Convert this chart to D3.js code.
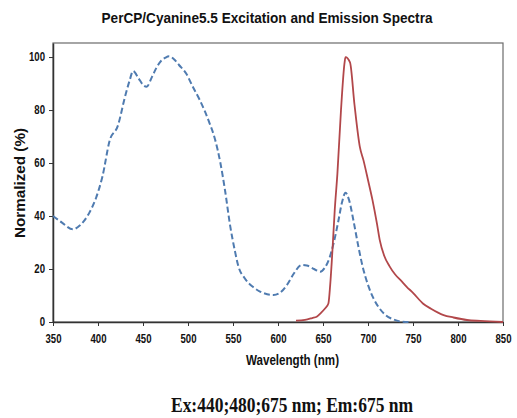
<!DOCTYPE html>
<html>
<head>
<meta charset="utf-8">
<script src="https://cdn.jsdelivr.net/npm/d3@7"></script>
<style>
  body { margin: 0; background: #fff; }
  text { font-family: "Liberation Sans", Arial, sans-serif; }
</style>
</head>
<body>
<div id="chart"></div>
<script>
// excitation spectrum (blue dashed)
var exWave = [350, 360, 372, 380, 390, 398, 405, 413, 422, 430, 435, 439, 445, 450, 454, 460, 465, 470, 475, 479, 485, 490, 498, 505, 513, 524, 530, 536, 541, 547, 552, 556, 563, 572, 580, 588, 595, 602, 610, 618, 626, 632, 640, 647, 652, 657, 662, 667, 671, 675, 679, 684, 689, 694, 700, 706, 712, 720, 728, 736, 745]
var exVal = [40, 37.5, 35, 36.5, 41, 47, 55, 68.5, 74, 85, 91, 94.7, 92, 89.5, 88.8, 92.5, 96, 98.5, 99.8, 100.3, 99, 97, 93.8, 89, 83.8, 75, 69, 60, 50, 36, 27, 21, 16.5, 13.3, 11.5, 10.5, 10.2, 11, 14, 18.5, 21.5, 21.3, 20, 19, 20.5, 24, 30, 38, 45, 48.8, 46, 38, 29, 21, 14, 9, 5.5, 2.5, 1, 0.2, 0]

// emission spectrum (red solid)
var emWave = [620, 630, 638, 643, 648, 652, 656, 658, 661, 663, 666, 670, 674, 675, 680, 685, 691, 695, 700, 705, 710, 713, 718, 724, 730, 737, 743, 750, 761, 770, 784, 795, 810, 825, 850]
var emVal = [0.5, 0.8, 1.5, 2, 3.5, 5, 7, 14, 30, 42, 56, 80, 98, 100, 98, 82, 66, 61, 53.6, 46, 37, 31, 25, 21, 18, 15.5, 13.3, 11, 7, 5, 2.6, 1.7, 0.75, 0.4, 0]

var xTicks = [350, 400, 450, 500, 550, 600, 650, 700, 750, 800, 850]
var yTicks = [0, 20, 40, 60, 80, 100]

var width = 517, height = 418
var margin = {left: 53, right: 14, top: 43, bottom: 96}
var squeeze = 0.8 // the original picture is narrower than it is tall

var svg = d3.select("#chart").append("svg")
    .attr("width", width)
    .attr("height", height)

var x = d3.scaleLinear().domain([350, 850]).range([margin.left, width - margin.right])
var y = d3.scaleLinear().domain([0, 105.3]).range([height - margin.bottom, margin.top])

// squeeze a text node sideways so its glyphs look like the reference
function narrow(sel) {
  sel.each(function() {
    var len = this.getComputedTextLength()
    d3.select(this).attr("textLength", len * squeeze).attr("lengthAdjust", "spacingAndGlyphs")
  })
}

// plot frame
svg.append("rect")
    .attr("x", x(350))
    .attr("y", y(105.3))
    .attr("width", x(850) - x(350))
    .attr("height", y(0) - y(105.3))
    .attr("fill", "none")
    .attr("stroke", "#6b6b6b")
    .attr("stroke-width", 1.2)

var xAxis = svg.append("g")
    .attr("transform", "translate(0," + y(0) + ")")
    .call(d3.axisBottom(x).tickValues(xTicks).tickSize(4).tickSizeOuter(0))
var yAxis = svg.append("g")
    .attr("transform", "translate(" + x(350) + ",0)")
    .call(d3.axisLeft(y).tickValues(yTicks).tickSize(4).tickSizeOuter(0))

;[xAxis, yAxis].forEach(function(g) {
  g.select(".domain").attr("stroke", "#333").attr("stroke-width", 1.5)
  g.selectAll(".tick line").attr("stroke", "#333")
  g.selectAll(".tick text")
      .attr("fill", "#111")
      .style("font-size", "12px")
      .style("font-weight", "bold")
      .style("font-family", "'Liberation Sans', Arial, sans-serif")
      .call(narrow)
})
xAxis.selectAll(".tick text").attr("y", 12)
yAxis.selectAll(".tick text").attr("x", -8)

var line = d3.line()
    .x(function(d) { return x(d[0]) })
    .y(function(d) { return y(d[1]) })
    .curve(d3.curveMonotoneX)

svg.append("path")
    .datum(d3.zip(exWave, exVal))
    .attr("d", line)
    .attr("fill", "none")
    .attr("stroke", "#4f7bb0")
    .attr("stroke-width", 2)
    .attr("stroke-dasharray", "6,3")

svg.append("path")
    .datum(d3.zip(emWave, emVal))
    .attr("d", line)
    .attr("fill", "none")
    .attr("stroke", "#b2474a")
    .attr("stroke-width", 1.8)

// titles
svg.append("text")
    .attr("x", 267)
    .attr("y", 23)
    .attr("text-anchor", "middle")
    .style("font-size", "15.5px")
    .style("font-weight", "bold")
    .attr("fill", "#111")
    .attr("textLength", 331)
    .attr("lengthAdjust", "spacingAndGlyphs")
    .text("PerCP/Cyanine5.5 Excitation and Emission Spectra")

svg.append("text")
    .attr("x", 292.5)
    .attr("y", 365)
    .attr("text-anchor", "middle")
    .style("font-size", "14px")
    .style("font-weight", "bold")
    .attr("fill", "#111")
    .attr("textLength", 93)
    .attr("lengthAdjust", "spacingAndGlyphs")
    .text("Wavelength (nm)")

svg.append("text")
    .attr("transform", "translate(25,183) rotate(-90)")
    .attr("text-anchor", "middle")
    .style("font-size", "14px")
    .style("font-weight", "bold")
    .attr("fill", "#111")
    .attr("textLength", 110)
    .attr("lengthAdjust", "spacingAndGlyphs")
    .text("Normalized (%)")

svg.append("text")
    .attr("x", 292)
    .attr("y", 412)
    .attr("text-anchor", "middle")
    .style("font-family", "'Liberation Serif', 'Times New Roman', serif")
    .style("font-size", "22px")
    .style("font-weight", "bold")
    .attr("fill", "#111")
    .attr("textLength", 242)
    .attr("lengthAdjust", "spacingAndGlyphs")
    .text("Ex:440;480;675 nm; Em:675 nm")
</script>
</body>
</html>
